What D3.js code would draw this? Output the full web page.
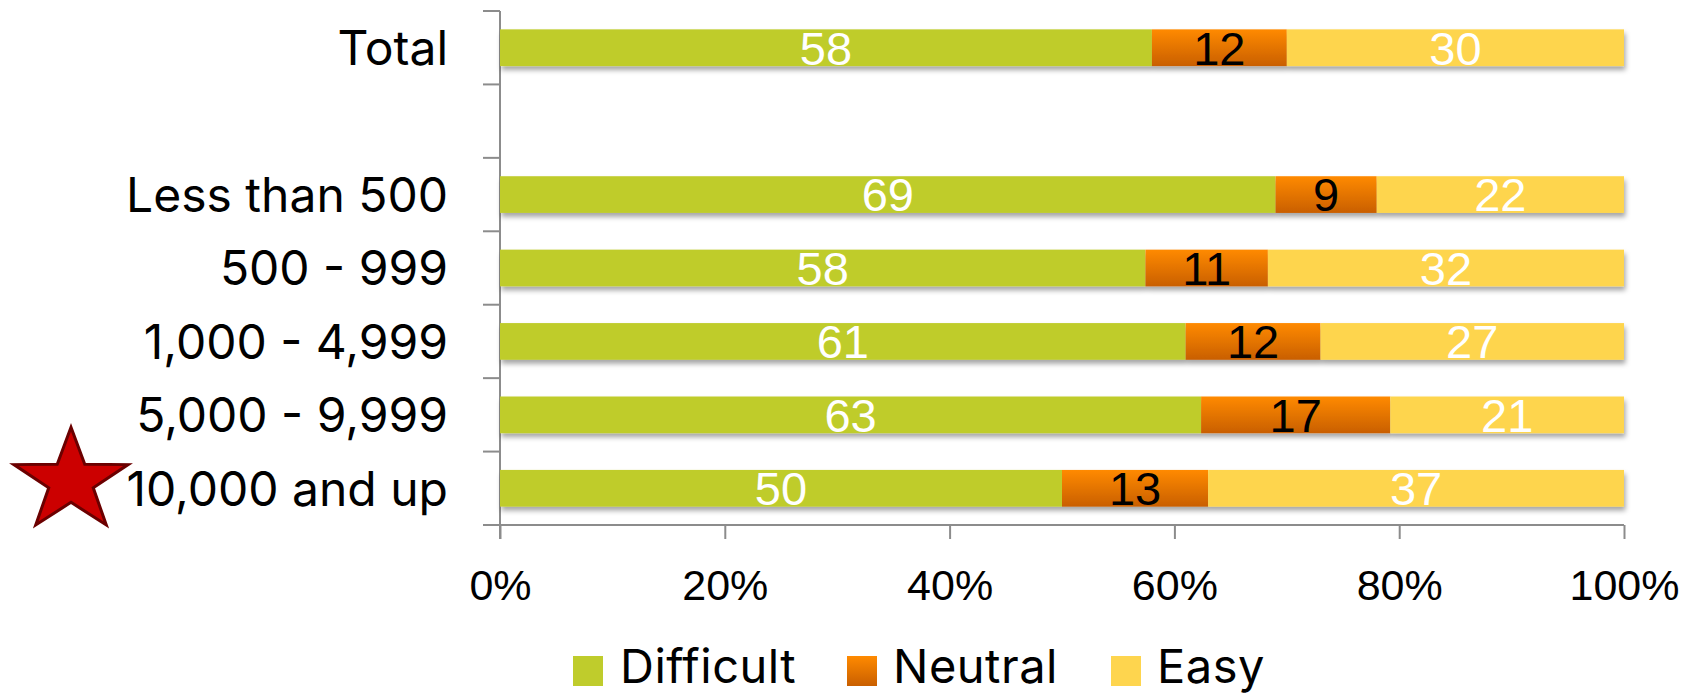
<!DOCTYPE html>
<html>
<head>
<meta charset="utf-8">
<script src="https://cdn.jsdelivr.net/npm/d3@7"></script>
<style>
  html, body { margin: 0; padding: 0; background: #fff; }
  svg { display: block; }
</style>
</head>
<body>
<svg id="chart" width="1688" height="694"></svg>
<script>
// ---- data ----
const categories = ["Total", "", "Less than 500", "500 - 999", "1,000 - 4,999", "5,000 - 9,999", "10,000 and up"];
const seriesNames = ["Difficult", "Neutral", "Easy"];
const difficult = [58, null, 69, 58, 61, 63, 50];
const neutral   = [12, null, 9, 11, 12, 17, 13];
const easy      = [30, null, 22, 32, 27, 21, 37];
const xTickValues = [0, 0.2, 0.4, 0.6, 0.8, 1];
const xTickLabels = ["0%", "20%", "40%", "60%", "80%", "100%"];
const highlighted = "10,000 and up";

const colors = { Difficult: "#BFCC2C", Easy: "#FED54E" };
const labelColors = { Difficult: "#ffffff", Neutral: "#000000", Easy: "#ffffff" };

const svg = d3.select("#chart");
const defs = svg.append("defs");
const grad = defs.append("linearGradient").attr("id", "neutralGrad")
  .attr("x1", 0).attr("y1", 0).attr("x2", 0).attr("y2", 1);
grad.append("stop").attr("offset", "0%").attr("stop-color", "#FF8A00");
grad.append("stop").attr("offset", "100%").attr("stop-color", "#C95F00");
const shadow = defs.append("filter").attr("id", "shadow")
  .attr("x", "-5%").attr("y", "-30%").attr("width", "110%").attr("height", "180%");
shadow.append("feDropShadow").attr("dx", 1.5).attr("dy", 4).attr("stdDeviation", 2.5)
  .attr("flood-color", "#000").attr("flood-opacity", 0.35);

const fill = s => s === "Neutral" ? "url(#neutralGrad)" : colors[s];

const x = d3.scaleLinear().domain([0, 1]).range([500, 1624]);
const y = d3.scaleBand().domain(categories.map((c, i) => i)).range([11, 525])
  .paddingInner(0.5).paddingOuter(0.25);

const rows = categories.map((c, i) => ({ idx: i, cat: c, Difficult: difficult[i], Neutral: neutral[i], Easy: easy[i] }))
  .filter(r => r.Difficult != null);
const stack = d3.stack().keys(seriesNames).offset(d3.stackOffsetExpand);
const stacked = stack(rows);

const axisColor = "#8c8c8c";
const labelFont = "Inter, 'Noto Sans', sans-serif";

// y axis (band boundaries as ticks)
const gy = svg.append("g");
gy.append("line").attr("x1", x(0)).attr("x2", x(0)).attr("y1", 11).attr("y2", 539)
  .attr("stroke", axisColor).attr("stroke-width", 2);
const boundaries = d3.range(categories.length + 1).map(i => 11 + i * (514 / categories.length));
gy.selectAll("line.tick").data(boundaries).join("line").attr("class", "tick")
  .attr("x1", x(0) - 17).attr("x2", x(0)).attr("y1", d => d).attr("y2", d => d)
  .attr("stroke", axisColor).attr("stroke-width", 2);
gy.selectAll("text").data(categories).join("text")
  .attr("x", 448).attr("y", (d, i) => y(i) + y.bandwidth() / 2)
  .attr("dy", "0.36em")
  .attr("text-anchor", "end")
  .style("font-family", labelFont).style("font-size", "48px")
  .attr("fill", "#000").text(d => d);

// x axis
const gx = svg.append("g").attr("transform", "translate(0,525)");
const xAxis = d3.axisBottom(x).tickValues(xTickValues).tickSize(14).tickPadding(0)
  .tickFormat((d, i) => xTickLabels[i]);
gx.call(xAxis);
gx.select(".domain").attr("d", `M${x(0) - 17},0H${x(1)}`).attr("stroke", axisColor).attr("stroke-width", 2);
gx.selectAll(".tick line").attr("stroke", axisColor).attr("stroke-width", 2);
gx.selectAll(".tick text").attr("y", 75).attr("dy", 0)
  .style("font-family", "'Liberation Sans', Arial, sans-serif").style("font-size", "43px").attr("fill", "#000");

// bars
const gBars = svg.append("g").attr("filter", "url(#shadow)");
stacked.forEach(layer => {
  gBars.selectAll(null).data(layer).join("rect")
    .attr("x", d => x(d[0])).attr("width", d => x(d[1]) - x(d[0]))
    .attr("y", d => y(d.data.idx)).attr("height", y.bandwidth())
    .attr("fill", fill(layer.key));
});
// labels
stacked.forEach(layer => {
  svg.append("g").selectAll("text").data(layer).join("text")
    .attr("x", d => (x(d[0]) + x(d[1])) / 2)
    .attr("y", d => y(d.data.idx) + y.bandwidth() / 2)
    .attr("dy", "0.36em").attr("text-anchor", "middle")
    .style("font-family", "'Liberation Sans', Arial, sans-serif").style("font-size", "47px")
    .attr("fill", labelColors[layer.key])
    .text(d => d.data[layer.key]);
});

// legend
const legendItems = [
  { name: "Difficult", sx: 573, tx: 620 },
  { name: "Neutral", sx: 847, tx: 893 },
  { name: "Easy", sx: 1111, tx: 1157 }
];
const gl = svg.append("g");
legendItems.forEach(it => {
  gl.append("rect").attr("x", it.sx).attr("y", 656).attr("width", 30).attr("height", 30)
    .attr("fill", fill(it.name));
  gl.append("text").attr("x", it.tx).attr("y", 683)
    .style("font-family", labelFont).style("font-size", "47px").style("letter-spacing", "0.5px")
    .attr("fill", "#000").text(it.name);
});

// star marker next to highlighted category
const hi = categories.indexOf(highlighted);
const cx = 71, cy = y(hi) + y.bandwidth() / 2 - 7;
const pts = d3.range(10).map(k => {
  const a = -Math.PI / 2 + k * Math.PI / 5;
  const r = k % 2 === 0 ? 1 : 0.39;
  return [cx + Math.cos(a) * r * 60, cy + Math.sin(a) * r * 54];
});
svg.append("path").attr("d", d3.line()(pts) + "Z")
  .attr("fill", "#CC0000").attr("stroke", "#6B0000").attr("stroke-width", 3)
  .attr("stroke-linejoin", "miter");
</script>
</body>
</html>
